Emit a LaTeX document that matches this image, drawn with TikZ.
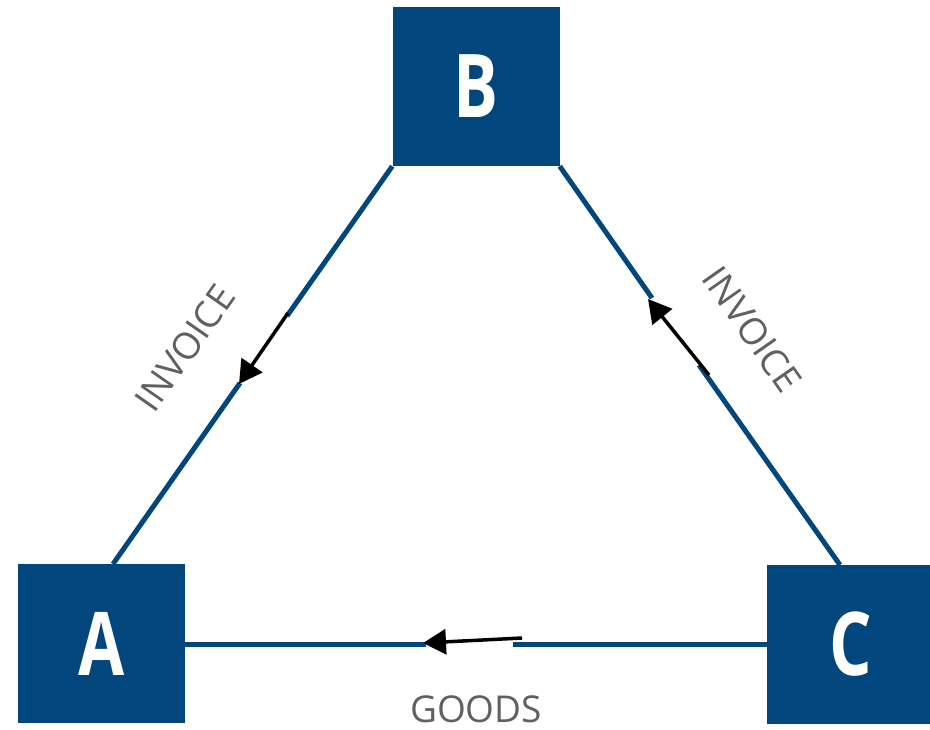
\documentclass[tikz,border=0pt]{standalone}
\usepackage{fontspec}
\setmainfont{Open Sans}
\newfontfamily\partyfont[FakeStretch=0.76]{Open Sans Bold}
\usetikzlibrary{arrows.meta}
\definecolor{navy}{RGB}{1,70,124}
\definecolor{labelgray}{RGB}{96,96,96}
\tikzset{
  party/.style={fill=navy, draw=none, minimum width=167pt, minimum height=159pt,
    inner sep=0pt, text=white, font=\partyfont\fontsize{88}{88}\selectfont},
  link/.style={draw=navy, line width=5pt},
  flow/.style={draw=black, line width=3.5pt, -{Triangle[length=23pt,width=25pt]}},
  tag/.style={text=labelgray, font=\fontsize{37}{37}\selectfont, inner sep=0pt}
}
\begin{document}
\begin{tikzpicture}[x=1pt,y=-1pt]
\useasboundingbox (0,0) rectangle (930,729);

% the three parties
\node[party] (B) at (476,86.5) {B};
\node[party] (A) at (101.5,643.5) {A};
\node[party] (C) at (850.5,644) {C};

% attachment points and gap ends of the links
\coordinate (Atop) at (113,564);
\coordinate (Ctop) at (840,565);
\coordinate (l1) at (287,316);
\coordinate (l2) at (240,383);
\coordinate (r1) at (652,298);
\coordinate (r2) at (699,365);
\coordinate (h1) at (426,644);
\coordinate (h2) at (513,644);

% links between the parties, broken where the flow arrows sit
\draw[link] (B.south west) -- (l1);
\draw[link] (l2) -- (Atop);
\draw[link] (B.south east) -- (r1);
\draw[link] (r2) -- (Ctop);
\draw[link] (A.east |- h1) -- (h1);
\draw[link] (h2) -- (C.west |- h2);

% flow arrows
\coordinate (fl1) at (288,313);
\coordinate (fl2) at (239,384);
\coordinate (fr1) at (709,375);
\coordinate (fr2) at (648,299);
\coordinate (fh1) at (522,638);
\coordinate (fh2) at (423,643);
\draw[flow] (fl1) -- (fl2);
\draw[flow] (fr1) -- (fr2);
\draw[flow] (fh1) -- (fh2);

% labels
\node[tag, rotate=55] (invl) at (185,348) {INVOICE};
\node[tag, rotate=-55] (invr) at (752,329) {INVOICE};
\node[tag] (goods) at (476,709) {GOODS};
\end{tikzpicture}
\end{document}
